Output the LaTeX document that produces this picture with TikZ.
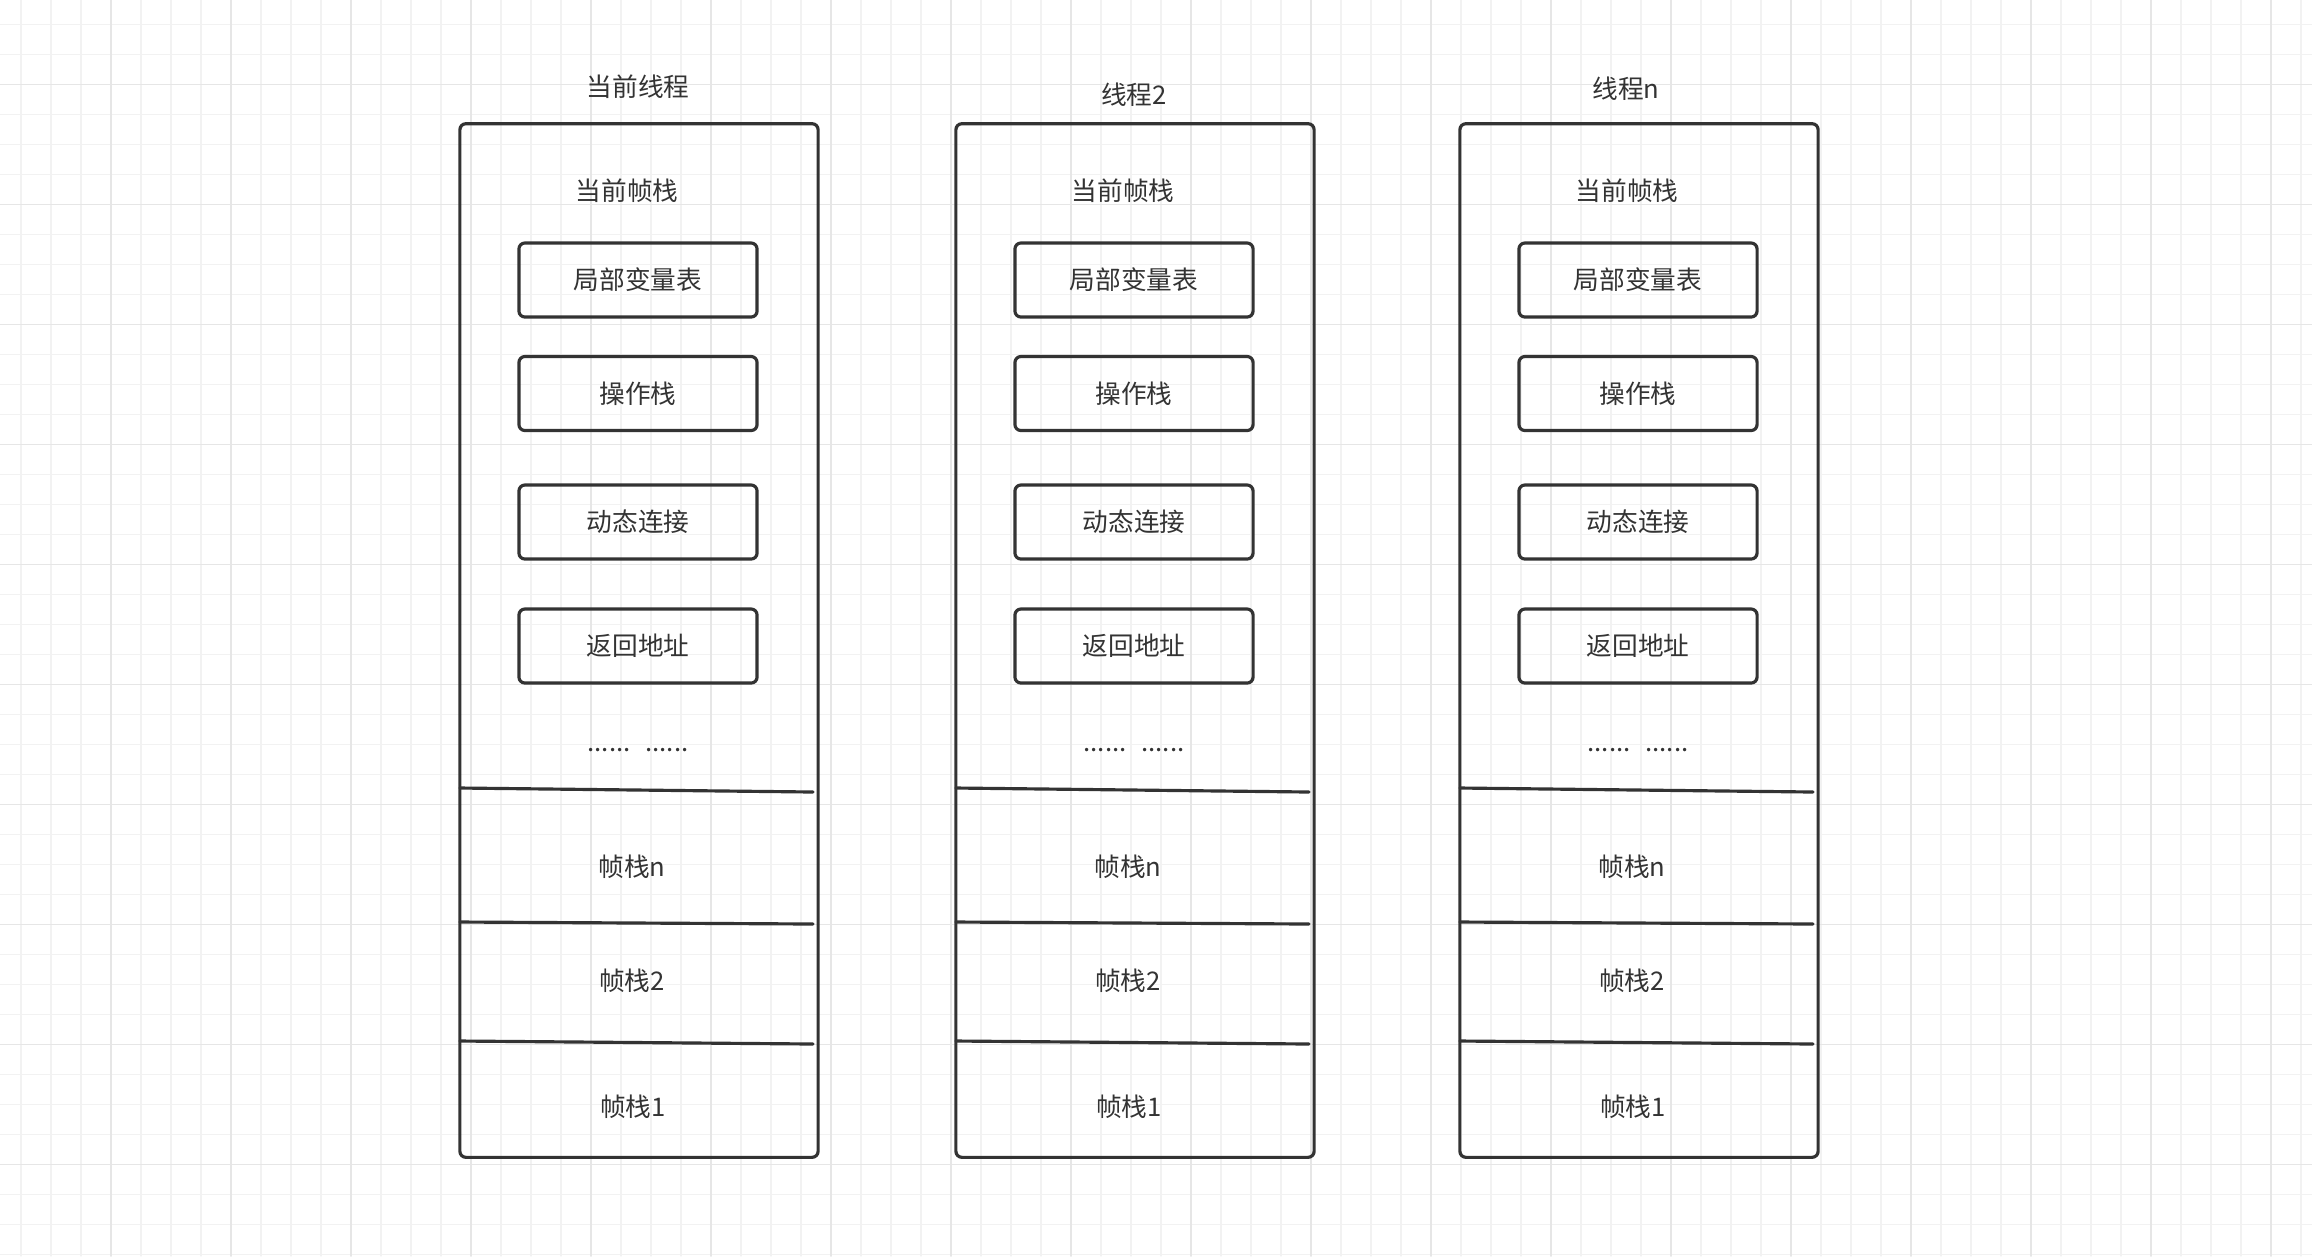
\documentclass[tikz,border=0pt]{standalone}
\usepackage{fontspec}
\newfontfamily\cjk{Noto Sans CJK SC}
\definecolor{ink}{HTML}{333333}
\definecolor{gridfaint}{HTML}{F2F2F2}
\definecolor{gridstrong}{HTML}{E6E6E6}
\tikzset{
  threadbox/.style={draw=ink,line width=0.9pt,rounded corners=1.7pt,minimum width=3.58cm,minimum height=10.33cm,inner sep=0pt},
  slotbox/.style={draw=ink,line width=0.9pt,rounded corners=1.7pt,minimum width=2.38cm,minimum height=0.74cm,inner sep=0pt,text=ink},
  plain/.style={inner sep=0pt,text=ink},
  divider/.style={draw=ink,line width=0.9pt},
  gridfine/.style={draw=gridfaint,line width=0.35pt},
  gridbold/.style={draw=gridstrong,line width=0.4pt}
}
\begin{document}
\begin{tikzpicture}[x=0.01cm,y=-0.01cm,line join=round,line cap=round,font=\cjk\fontsize{7.3}{8.5}\selectfont]
  \useasboundingbox (0,0) rectangle (2312,1256);
  \fill[white] (0,0) rectangle (2312,1256);
  % background grid
  \foreach \k in {0,...,76} \draw[gridfine] (21+30*\k,0) -- (21+30*\k,1256);
  \foreach \k in {0,...,41} \draw[gridfine] (0,24.5+30*\k) -- (2312,24.5+30*\k);
  \foreach \k in {0,...,18} \draw[gridbold] (111+120*\k,0) -- (111+120*\k,1256);
  \foreach \k in {0,...,9} \draw[gridbold] (0,84.5+120*\k) -- (2312,84.5+120*\k);
  % one column per thread
  \foreach \dx/\tx/\ty/\name/\id in {0/638/87/当前线程/a,496/1134/95/线程2/b,1000/1626/89/线程n/c}{
    \node[threadbox] (\id) at (639+\dx,640.5) {};
    \node[plain] (\id-title) at (\tx,\ty) {\name};
    \node[plain] (\id-cur) at (627+\dx,191) {当前帧栈};
    \node[slotbox] (\id-lvt) at (638+\dx,280) {局部变量表};
    \node[slotbox] (\id-ops) at (638+\dx,393.5) {操作栈};
    \node[slotbox] (\id-dyn) at (638+\dx,522) {动态连接};
    \node[slotbox] (\id-ret) at (638+\dx,646) {返回地址};
    \node[plain,anchor=base] (\id-dots) at (638+\dx,751) {......\hspace{0.15cm}......};
    \draw[divider] (460+\dx,788) -- (813+\dx,792);
    \draw[divider] (460+\dx,922) -- (813+\dx,924);
    \draw[divider] (460+\dx,1041) -- (813+\dx,1044);
    \node[plain] (\id-fn) at (632+\dx,867) {帧栈n};
    \node[plain] (\id-f2) at (632+\dx,981) {帧栈2};
    \node[plain] (\id-f1) at (633+\dx,1107) {帧栈1};
  }
\end{tikzpicture}
\end{document}
